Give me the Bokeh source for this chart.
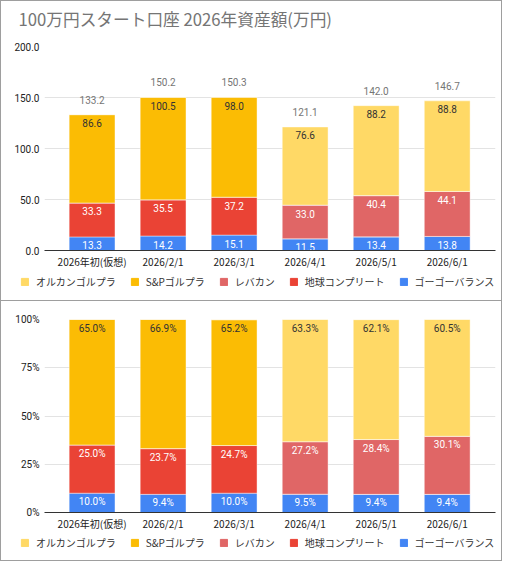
from bokeh.plotting import figure
from bokeh.models import (Range1d, FixedTicker, NumeralTickFormatter, PrintfTickFormatter,
                          Legend, LegendItem)
from bokeh.layouts import column
from bokeh.core.properties import value
from bokeh.embed import file_html
from bokeh.resources import INLINE
import numpy as np

# ---------------- data ----------------
dates = ["2026年初(仮想)", "2026/2/1", "2026/3/1", "2026/4/1", "2026/5/1", "2026/6/1"]

# legend order
series = ["オルカンゴルプラ", "S&Pゴルプラ", "レバカン", "地球コンプリート", "ゴーゴーバランス"]
colors = ["#FFD966", "#FBBC04", "#E06666", "#EA4335", "#4285F4"]

# absolute values (万円)
orukan = [0, 0, 0, 76.6, 88.2, 88.8]
sp = [86.6, 100.5, 98.0, 0, 0, 0]
rebakan = [0, 0, 0, 33.0, 40.4, 44.1]
chikyu = [33.3, 35.5, 37.2, 0, 0, 0]
gogo = [13.3, 14.2, 15.1, 11.5, 13.4, 13.8]

# shares (%)
orukan_pct = [0, 0, 0, 63.3, 62.1, 60.5]
sp_pct = [65.0, 66.9, 65.2, 0, 0, 0]
rebakan_pct = [0, 0, 0, 27.2, 28.4, 30.1]
chikyu_pct = [25.0, 23.7, 24.7, 0, 0, 0]
gogo_pct = [10.0, 9.4, 10.0, 9.5, 9.4, 9.4]

title_text = "100万円スタート口座 2026年資産額(万円)"
y_ticks_abs = [0, 50, 100, 150, 200]
y_ticks_pct = [0, 25, 50, 75, 100]

JP = "Noto Sans CJK JP"
NUM = "Roboto"
BORDER = "1px solid #9e9e9e"
W = 502

label_colors = ["#333333", "#333333", "#ffffff", "#ffffff", "#ffffff"]


def blank_fig(height, styles):
    f = figure(width=W, height=height, output_backend="svg", toolbar_location=None,
               x_range=Range1d(0, 1), y_range=Range1d(0, 1),
               x_axis_location=None, y_axis_location=None,
               min_border_left=0, min_border_right=0, min_border_top=0, min_border_bottom=0)
    f.frame_align = False
    f.styles = styles
    f.outline_line_color = None
    f.grid.grid_line_color = None
    f.border_fill_color = "white"
    return f


def make_title(height, styles):
    t = blank_fig(height, styles)
    t.title.text = title_text
    t.title.text_font = JP
    t.title.text_font_size = "16.7px"
    t.title.text_font_style = "normal"
    t.title.text_color = "#757575"
    t.title.align = "left"
    t.title.offset = 17
    t.title.standoff = 6
    return t


def make_chart(vals, height, mb_top, mb_bottom, y_end, ticks, formatter, fmt,
               show_total, styles):
    xs = list(range(len(dates)))
    p = figure(width=W, height=height, output_backend="svg", toolbar_location=None,
               x_range=Range1d(-0.67, 5.68), y_range=Range1d(0, y_end),
               min_border_left=43, min_border_right=8, min_border_top=mb_top,
               min_border_bottom=mb_bottom)
    p.frame_align = False
    p.styles = styles
    p.outline_line_color = None
    p.background_fill_color = "white"
    p.border_fill_color = "white"

    # stack bottom -> top : gogo, chikyu, rebakan, sp, orukan
    order = [4, 3, 2, 1, 0]
    data = {"x": xs}
    keys = []
    for i in order:
        k = "s%d" % i
        data[k] = vals[i]
        keys.append(k)
    p.vbar_stack(keys, x="x", width=0.645, source=data,
                 color=[colors[i] for i in order],
                 line_color="white", line_width=0.6, line_alpha=0.7)

    # segment labels
    cum = np.zeros(len(xs))
    lx, ly, lt, lc = [], [], [], []
    for i in order:
        v = np.array(vals[i], dtype=float)
        top = cum + v
        for j in range(len(xs)):
            if v[j] > 0:
                lx.append(xs[j]); ly.append(top[j]); lt.append(fmt(v[j])); lc.append(label_colors[i])
        cum = top
    p.text(x=lx, y=ly, text=lt, text_color=lc, text_align="center", text_baseline="middle",
           y_offset=8.5, text_font_size="10px", text_font=value(NUM))

    if show_total:
        p.text(x=xs, y=list(cum), text=["%.1f" % t for t in cum], text_color="#757575",
               text_align="center", text_baseline="middle", y_offset=-15,
               text_font_size="10px", text_font=value(NUM))

    # axes
    p.xaxis.ticker = FixedTicker(ticks=xs)
    p.xaxis.major_label_overrides = {i: d for i, d in enumerate(dates)}
    p.xaxis.major_label_text_font = JP
    p.xaxis.major_label_text_font_size = "10px"
    p.xaxis.major_label_text_color = "#222222"
    p.xaxis.major_label_standoff = 3
    p.xaxis.major_tick_out = 0
    p.xaxis.major_tick_in = 0
    p.xaxis.major_tick_line_color = None
    p.xaxis.minor_tick_line_color = None
    p.xaxis.axis_line_color = "#333333"
    p.xaxis.axis_line_width = 1

    p.yaxis.ticker = FixedTicker(ticks=ticks)
    p.yaxis.formatter = formatter
    p.yaxis.major_label_text_font = NUM
    p.yaxis.major_label_text_font_size = "10px"
    p.yaxis.major_label_text_color = "#222222"
    p.yaxis.major_label_standoff = 5
    p.yaxis.major_tick_out = 0
    p.yaxis.major_tick_in = 0
    p.yaxis.major_tick_line_color = None
    p.yaxis.minor_tick_line_color = None
    p.yaxis.axis_line_color = None

    p.xgrid.grid_line_color = None
    p.ygrid.grid_line_color = "#e3e3e3"
    p.ygrid.grid_line_width = 1
    return p


def make_legend(height, vy, styles):
    lg = blank_fig(height, styles)
    items = []
    for name, c in zip(series, colors):
        r = lg.vbar(x=[5], top=[0], width=0.1, color=c)
        items.append(LegendItem(label=name, renderers=[r]))
    legend = Legend(items=items, orientation="horizontal", location=(19, vy),
                    glyph_width=9, glyph_height=9, label_standoff=7, spacing=14,
                    label_height=12, padding=0, margin=0, border_line_color=None,
                    background_fill_alpha=0, label_text_font=JP,
                    label_text_font_size="10px", label_text_color="#333333")
    lg.add_layout(legend, "center")
    return lg


t1 = make_title(34, {"border-left": BORDER, "border-right": BORDER, "border-top": BORDER})
p1 = make_chart([orukan, sp, rebakan, chikyu, gogo], 237, 12, 19, 200, y_ticks_abs,
                NumeralTickFormatter(format="0.0"), lambda v: "%.1f" % v, True,
                {"border-left": BORDER, "border-right": BORDER})
l1 = make_legend(30, 12, {"border-left": BORDER, "border-right": BORDER, "border-bottom": BORDER})

p2 = make_chart([orukan_pct, sp_pct, rebakan_pct, chikyu_pct, gogo_pct], 232, 18, 19, 100,
                y_ticks_pct, PrintfTickFormatter(format="%d%%"), lambda v: "%.1f%%" % v,
                False, {"border-left": BORDER, "border-right": BORDER})
l2 = make_legend(28, 11, {"border-left": BORDER, "border-right": BORDER, "border-bottom": BORDER})

layout = column(t1, p1, l1, p2, l2, spacing=0)
open("out.html", "w").write(file_html(layout, INLINE))
